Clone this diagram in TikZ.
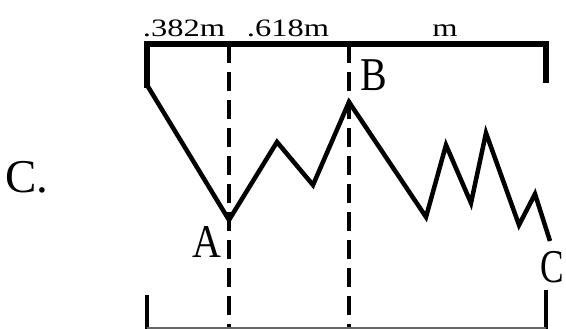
\documentclass[tikz,border=0pt]{standalone}
\usepackage{fontspec}
\setmainfont{Liberation Serif}

\begin{document}
\begin{tikzpicture}[x=1pt, y=-1pt,
    bar/.style={line width=6pt},
    wave/.style={line width=4.5pt, line join=miter},
    guide/.style={line width=4pt, dash pattern=on 19pt off 9pt},
    ratio/.style={inner sep=0pt, anchor=base, xscale=1.3, font=\fontsize{25}{25}\selectfont},
    point/.style={inner sep=0pt, font=\fontsize{47}{47}\selectfont}]
    \useasboundingbox (0,0) rectangle (566,329);

    % scale bar and ends
    \coordinate (tl) at (147,44);
    \coordinate (tr) at (546,44);
    \coordinate (start) at (147,85);
    \coordinate (rend) at (546,80);
    \draw[bar, line cap=rect] (start) -- (tl) -- (tr) -- (rend);

    % fib levels
    \coordinate (ta) at (229,44);
    \coordinate (tb) at (349,44);
    \coordinate (ba) at (229,329);
    \coordinate (bb) at (349,329);
    \draw[guide] (ta) -- (ba);
    \draw[guide] (tb) -- (bb);

    % bottom scale
    \coordinate (bl) at (147,295);
    \coordinate (bll) at (147,329);
    \coordinate (br) at (546,290);
    \coordinate (brr) at (546,329);
    \draw[line width=4pt] (bl) -- (bll);
    \draw[line width=4pt] (br) -- (brr);
    \draw[line width=1.2pt, black!60] (147,328) -- (546,328);

    % price swings
    \coordinate (A) at (229,220);
    \coordinate (B) at (349,102);
    \coordinate (C) at (550,241);
    \draw[wave] (start) -- (A) -- (277,142) -- (313,185) -- (B)
        -- (426,217) -- (446,145) -- (471,203) -- (486,133)
        -- (519,225) -- (535,194) -- (C);

    \node[ratio] (r1) at (184,37) {.382m};
    \node[ratio] (r2) at (288,37) {.618m};
    \node[ratio] (r3) at (445,37) {m};

    \node[point, xscale=0.85] (la) at (207,242) {A};
    \node[point, xscale=0.85] (lb) at (374,75) {B};
    \node[point, xscale=0.75] (lc) at (552,267) {C};
    \node[point, anchor=west] (title) at (5,177) {C.};
\end{tikzpicture}
\end{document}
